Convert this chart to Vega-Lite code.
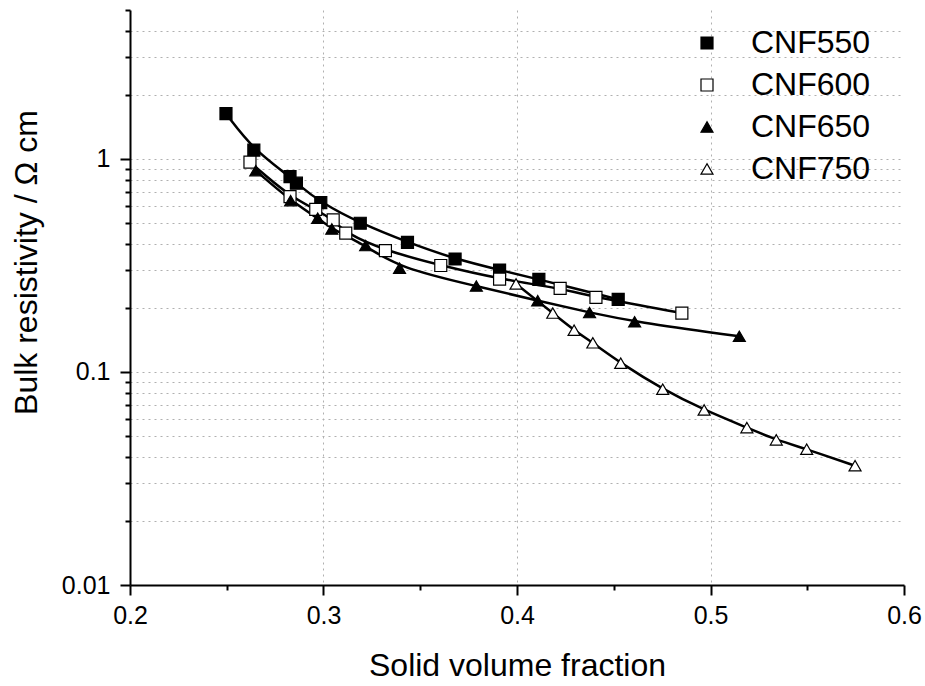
{
  "$schema": "https://vega.github.io/schema/vega-lite/v6.json",
  "width": 774,
  "height": 575,
  "autosize": {"type": "none"},
  "padding": {"left": 130, "top": 10, "right": 21, "bottom": 101},
  "background": "white",
  "config": {
    "font": "Liberation Sans",
    "view": {"stroke": null},
    "legend": {
      "orient": "none", "legendX": 561, "legendY": 17,
      "labelFontSize": 32, "labelColor": "black", "labelOffset": 28,
      "rowPadding": 10, "padding": 0,
      "symbolStrokeColor": "black", "symbolStrokeWidth": 1.2
    }
  },
  "data": {
    "values": [
      {"s": "CNF550", "x": 0.2496, "y": 1.63},
      {"s": "CNF550", "x": 0.264, "y": 1.10},
      {"s": "CNF550", "x": 0.2827, "y": 0.826},
      {"s": "CNF550", "x": 0.286, "y": 0.769},
      {"s": "CNF550", "x": 0.2986, "y": 0.624},
      {"s": "CNF550", "x": 0.319, "y": 0.499},
      {"s": "CNF550", "x": 0.3434, "y": 0.406},
      {"s": "CNF550", "x": 0.368, "y": 0.339},
      {"s": "CNF550", "x": 0.391, "y": 0.301},
      {"s": "CNF550", "x": 0.4113, "y": 0.272},
      {"s": "CNF550", "x": 0.4523, "y": 0.219},
      {"s": "CNF600", "x": 0.262, "y": 0.965},
      {"s": "CNF600", "x": 0.2827, "y": 0.665},
      {"s": "CNF600", "x": 0.296, "y": 0.58},
      {"s": "CNF600", "x": 0.305, "y": 0.517},
      {"s": "CNF600", "x": 0.3115, "y": 0.448},
      {"s": "CNF600", "x": 0.332, "y": 0.371},
      {"s": "CNF600", "x": 0.3606, "y": 0.316},
      {"s": "CNF600", "x": 0.391, "y": 0.273},
      {"s": "CNF600", "x": 0.4223, "y": 0.247},
      {"s": "CNF600", "x": 0.4408, "y": 0.224},
      {"s": "CNF600", "x": 0.4852, "y": 0.189},
      {"s": "CNF650", "x": 0.265, "y": 0.881},
      {"s": "CNF650", "x": 0.283, "y": 0.637},
      {"s": "CNF650", "x": 0.297, "y": 0.527},
      {"s": "CNF650", "x": 0.3043, "y": 0.469},
      {"s": "CNF650", "x": 0.3218, "y": 0.392},
      {"s": "CNF650", "x": 0.3393, "y": 0.307},
      {"s": "CNF650", "x": 0.379, "y": 0.253},
      {"s": "CNF650", "x": 0.4107, "y": 0.216},
      {"s": "CNF650", "x": 0.4375, "y": 0.19},
      {"s": "CNF650", "x": 0.4608, "y": 0.172},
      {"s": "CNF650", "x": 0.5149, "y": 0.147},
      {"s": "CNF750", "x": 0.3995, "y": 0.259},
      {"s": "CNF750", "x": 0.4185, "y": 0.189},
      {"s": "CNF750", "x": 0.4295, "y": 0.157},
      {"s": "CNF750", "x": 0.4392, "y": 0.137},
      {"s": "CNF750", "x": 0.4536, "y": 0.11},
      {"s": "CNF750", "x": 0.4753, "y": 0.083},
      {"s": "CNF750", "x": 0.4967, "y": 0.0663},
      {"s": "CNF750", "x": 0.5188, "y": 0.0548},
      {"s": "CNF750", "x": 0.534, "y": 0.048},
      {"s": "CNF750", "x": 0.5497, "y": 0.0434},
      {"s": "CNF750", "x": 0.5747, "y": 0.0363}
    ]
  },
  "encoding": {
    "x": {
      "field": "x", "type": "quantitative",
      "scale": {"domain": [0.2, 0.6], "nice": false, "zero": false},
      "axis": {
        "title": "Solid volume fraction",
        "values": [0.2, 0.25, 0.3, 0.35, 0.4, 0.45, 0.5, 0.55, 0.6],
        "labelExpr": "(datum.value==0.2||datum.value==0.3||datum.value==0.4||datum.value==0.5||datum.value==0.6) ? datum.label : ''",
        "format": "~g",
        "labelFontSize": 25, "labelColor": "black", "labelPadding": 8,
        "titleFontSize": 32, "titleFontWeight": "normal", "titleColor": "black",
        "titleY": 90, "titleBaseline": "alphabetic",
        "domainColor": "black", "domainWidth": 2,
        "tickColor": "black", "tickWidth": 2,
        "tickSize": {"condition": {"test": "datum.value==0.2||datum.value==0.3||datum.value==0.4||datum.value==0.5||datum.value==0.6", "value": 10}, "value": 5},
        "grid": true, "gridColor": "#b0b0b0", "gridDash": [2, 4], "gridWidth": 1,
        "gridOpacity": {"condition": {"test": "datum.value==0.3||datum.value==0.4||datum.value==0.5", "value": 1}, "value": 0},
        "labelFlush": false, "labelOverlap": false
      }
    },
    "y": {
      "field": "y", "type": "quantitative",
      "scale": {"type": "log", "domain": [0.01, 5], "nice": false},
      "axis": {
        "title": "Bulk resistivity / Ω cm",
        "values": [0.01, 0.02, 0.03, 0.04, 0.05, 0.06, 0.07, 0.08, 0.09, 0.1, 0.2, 0.3, 0.4, 0.5, 0.6, 0.7, 0.8, 0.9, 1, 2, 3, 4, 5],
        "labelExpr": "datum.value==0.01 ? '0.01' : datum.value==0.1 ? '0.1' : datum.value==1 ? '1' : ''",
        "labelFontSize": 25, "labelColor": "black", "labelPadding": 10,
        "titleFontSize": 32, "titleFontWeight": "normal", "titleColor": "black",
        "titleX": -94, "titleY": 252, "titleBaseline": "alphabetic", "titleAngle": -90,
        "domainColor": "black", "domainWidth": 2,
        "tickColor": "black", "tickWidth": 2,
        "tickSize": {"condition": {"test": "datum.value==0.01||datum.value==0.1||datum.value==1", "value": 10}, "value": 5},
        "grid": true, "gridColor": "#b0b0b0", "gridDash": [2, 4], "gridWidth": 1,
        "gridOpacity": {"condition": {"test": "datum.value==0.01||datum.value==5", "value": 0}, "value": 1},
        "labelFlush": false, "labelOverlap": false
      }
    }
  },
  "layer": [
    {
      "mark": {"type": "line", "color": "black", "strokeWidth": 2.5, "interpolate": "basis"},
      "encoding": {"detail": {"field": "s"}}
    },
    {
      "mark": {"type": "point", "filled": true, "strokeWidth": 1.2, "opacity": 1},
      "encoding": {
        "shape": {"field": "s", "type": "nominal", "scale": {"domain": ["CNF550", "CNF600", "CNF650", "CNF750"], "range": ["square", "square", "triangle-up", "triangle-up"]}, "legend": {"title": null}},
        "fill": {"field": "s", "type": "nominal", "scale": {"domain": ["CNF550", "CNF600", "CNF650", "CNF750"], "range": ["black", "white", "black", "white"]}, "legend": {"title": null}},
        "stroke": {"field": "s", "type": "nominal", "scale": {"domain": ["CNF550", "CNF600", "CNF650", "CNF750"], "range": ["black", "black", "black", "black"]}, "legend": {"title": null}},
        "size": {"field": "s", "type": "nominal", "scale": {"domain": ["CNF550", "CNF600", "CNF650", "CNF750"], "range": [144, 144, 340, 340]}, "legend": {"title": null}}
      }
    }
  ]
}
